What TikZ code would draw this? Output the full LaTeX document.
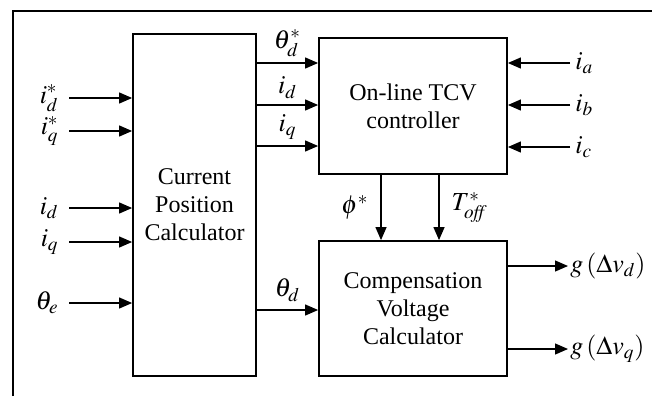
\documentclass[tikz,border=0pt]{standalone}
\usepackage{mathptmx}
\usepackage{fontspec}
\setmainfont{Liberation Serif}
\usepackage{tikz}
\usetikzlibrary{arrows.meta,positioning}
\tikzset{
  block/.style={draw=black,line width=0.9pt,align=center,inner sep=2pt,
    font=\fontsize{12}{14}\selectfont},
  flow/.style={-{Triangle[length=6.5pt,width=5.5pt]},line width=0.6pt},
  sig/.style={inner sep=1pt,font=\fontsize{13}{15}\selectfont},
  frame/.style={line width=0.8pt}
}

\begin{document}
\begin{tikzpicture}[x=0.5pt,y=-0.5pt]
  \useasboundingbox (0,0) rectangle (656,396);
  \draw[frame] (13,396) -- (13,11) -- (652,11);
  % blocks
  \node[block,minimum width=61.5pt,minimum height=171pt] (cpc) at (194.5,205)
    {Current\\Position\\Calculator};
  \node[block,minimum width=94pt,minimum height=68pt] (tcv) at (413,106)
    {On-line TCV\\controller};
  \node[block,minimum width=94pt,minimum height=67.5pt] (cvc) at (413,308.5)
    {Compensation\\Voltage\\Calculator};
  % inputs of the position calculator
  \foreach \nm/\yy/\tx in {ids/98/{i_d^*},iqs/131/{i_q^*},idm/208/{i_d},iqm/242/{i_q},the/303/{\theta_e}} {
    \coordinate (\nm) at (69,\yy);
    \node[sig,left=4pt of \nm] (\nm lbl) {$\tx$};
    \draw[flow] (\nm) -- (\nm -| cpc.west);
  }
  % position calculator to the TCV controller
  \coordinate (r1) at (0,63);
  \coordinate (r2) at (0,105);
  \coordinate (r3) at (0,146);
  \coordinate (r4) at (0,310);
  \draw[flow] (cpc.east |- r1) -- (tcv.west |- r1) node[sig,midway,above=2pt] (thds) {$\theta_d^*$};
  \draw[flow] (cpc.east |- r2) -- (tcv.west |- r2) node[sig,midway,above=2pt] (idout) {$i_d$};
  \draw[flow] (cpc.east |- r3) -- (tcv.west |- r3) node[sig,midway,above=2pt] (iqout) {$i_q$};
  \draw[flow] (cpc.east |- r4) -- (cvc.west |- r4) node[sig,midway,above=3pt] (thd) {$\theta_d$};
  % phase currents
  \foreach \nm/\yy/\tx in {ia/63/a,ib/105/b,ic/147/c} {
    \coordinate (\nm) at (570,\yy);
    \node[sig,right=1.5pt of \nm] (\nm lbl) {$i_\tx$};
    \draw[flow] (\nm) -- (\nm -| tcv.east);
  }
  % controller to compensation block
  \coordinate (phx) at (381,0);
  \coordinate (tox) at (439,0);
  \draw[flow] (tcv.south -| phx) -- (cvc.north -| phx) node[sig,midway,left=5pt] (phs) {$\phi^*$};
  \draw[flow] (tcv.south -| tox) -- (cvc.north -| tox) node[sig,midway,right=5pt] (toff) {$T_{\mathit{off}}^*$};
  % outputs
  \foreach \nm/\yy/\tx in {gvd/266/d,gvq/349/q} {
    \coordinate (\nm) at (568,\yy);
    \node[sig,right=0pt of \nm] (\nm lbl) {$g\left(\Delta v_\tx\right)$};
    \draw[flow] (cvc.east |- \nm) -- (\nm);
  }
\end{tikzpicture}
\end{document}
